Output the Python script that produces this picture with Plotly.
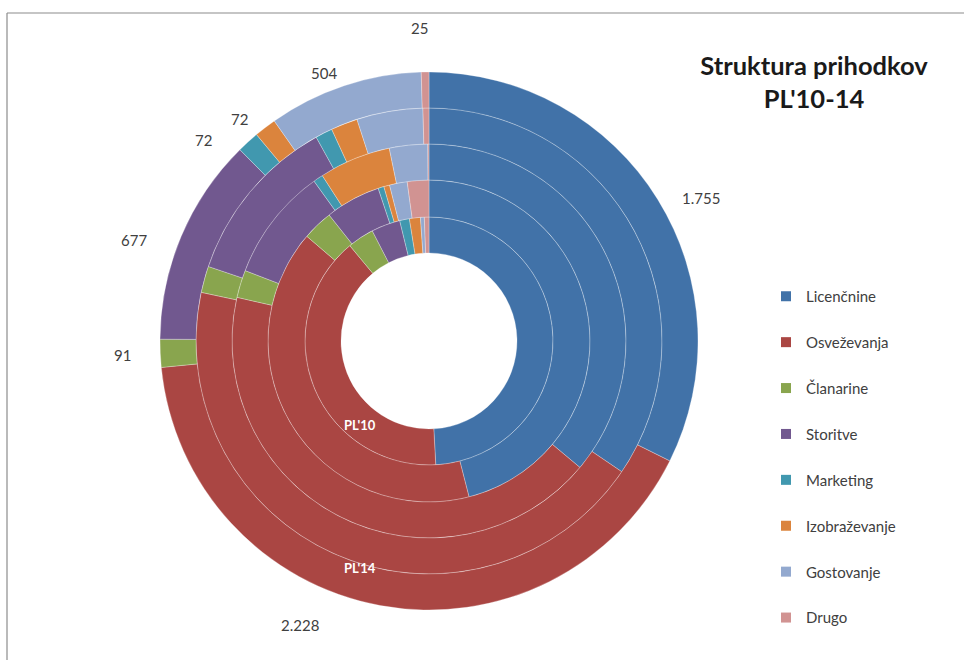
import math
import plotly.graph_objects as go

# ---------------- data ----------------
categories = ["Licenčnine", "Osveževanja", "Članarine", "Storitve",
              "Marketing", "Izobraževanje", "Gostovanje", "Drugo"]
years = ["PL'10", "PL'11", "PL'12", "PL'13", "PL'14"]

pl10 = [1474, 1195, 104, 113, 38, 43, 15, 18]
pl11 = [1656, 1450, 110, 200, 21, 21, 64, 78]
pl12 = [1517, 1784, 95, 389, 34, 247, 132, 4]
pl13 = [1655, 2105, 88, 565, 57, 89, 220, 20]
pl14 = [1755, 2228, 91, 677, 72, 72, 504, 25]
series = [pl10, pl11, pl12, pl13, pl14]

colors = ["#4172A8", "#AA4643", "#89A54E", "#71588F",
          "#4198AF", "#DB843D", "#93A9CF", "#D19392"]

# ---------------- layout geometry ----------------
W, H = 964, 660
CX, CY = 429, 341                 # pixel centre of the rings
RADII = [88, 124, 161, 197, 233, 269]   # ring boundaries (px)
FONT = "Lato, 'Open Sans', sans-serif"

fig = go.Figure()

for i, (yr, vals) in enumerate(zip(years, series)):
    r_in, r_out = RADII[i], RADII[i + 1]
    fig.add_trace(go.Pie(
        labels=categories, values=vals, name=yr,
        sort=False, direction="clockwise", rotation=0,
        hole=r_in / r_out,
        domain=dict(x=[(CX - r_out) / W, (CX + r_out) / W],
                    y=[1 - (CY + r_out) / H, 1 - (CY - r_out) / H]),
        marker=dict(colors=colors,
                    line=dict(color="rgba(255,255,255,0.4)", width=0.7)),
        textinfo="none", showlegend=False,
        hovertemplate=yr + "<br>%{label}: %{value}<extra></extra>",
    ))

# legend via marker-only entries
for cat, col in zip(categories, colors):
    fig.add_trace(go.Scatter(
        x=[None], y=[None], mode="markers", name=cat, legendgroup=cat,
        marker=dict(symbol="square", size=10, color=col),
        hoverinfo="skip"))

# data labels for the outer ring (PL'14)
label_shift = [4, 14, 0, -4, -6, -3, -3, -1]          # degrees
label_rad = [307, 312, 307, 312, 302, 292, 288, 313]   # px
total = sum(pl14)
cum = 0
annotations = []
for v, sh, rr in zip(pl14, label_shift, label_rad):
    mid = (cum + v / 2) / total * 360 + sh
    cum += v
    a = math.radians(mid)
    px = CX + rr * math.sin(a)
    py = CY - rr * math.cos(a)
    txt = f"{v:,}".replace(",", ".")
    annotations.append(dict(
        x=px / W, y=1 - py / H, xref="paper", yref="paper",
        text=txt, showarrow=False, xanchor="center", yanchor="middle",
        font=dict(family=FONT, size=15, color="#404040")))

# ring name labels
for name, ang, rr in [("PL'10", 219.4, 109), ("PL'14", 197.0, 237)]:
    a = math.radians(ang)
    px = CX + rr * math.sin(a)
    py = CY - rr * math.cos(a)
    annotations.append(dict(
        x=px / W, y=1 - py / H, xref="paper", yref="paper",
        text=f"<b>{name}</b>", showarrow=False,
        xanchor="center", yanchor="middle",
        font=dict(family=FONT, size=13, color="white")))

fig.update_layout(
    width=W, height=H,
    margin=dict(l=0, r=0, t=0, b=0),
    paper_bgcolor="white", plot_bgcolor="white",
    xaxis=dict(visible=False), yaxis=dict(visible=False),
    title=dict(text="<b>Struktura prihodkov<br>PL'10-14</b>",
               x=814 / W, xanchor="center", xref="paper",
               y=1 - 75 / H, yanchor="middle", yref="container",
               font=dict(family=FONT, size=25.5, color="#1A1A1A")),
    legend=dict(x=766 / W, xanchor="left", y=1 - 280 / H, yanchor="top",
                font=dict(family=FONT, size=15, color="#404040"),
                tracegroupgap=23.4, bgcolor="rgba(0,0,0,0)"),
    annotations=annotations,
    shapes=[
        dict(type="line", xref="paper", yref="paper",
             x0=7 / W, x1=1.0, y0=1 - 13 / H, y1=1 - 13 / H,
             line=dict(color="#8C8C8C", width=1.2)),
        dict(type="line", xref="paper", yref="paper",
             x0=7 / W, x1=7 / W, y0=0, y1=1 - 13 / H,
             line=dict(color="#8C8C8C", width=1.2)),
    ],
)

fig.write_html(
    "out.html",
    config={"displayModeBar": False},
    post_script="document.body.style.margin='0';"
                "document.body.style.overflow='hidden';",
)
